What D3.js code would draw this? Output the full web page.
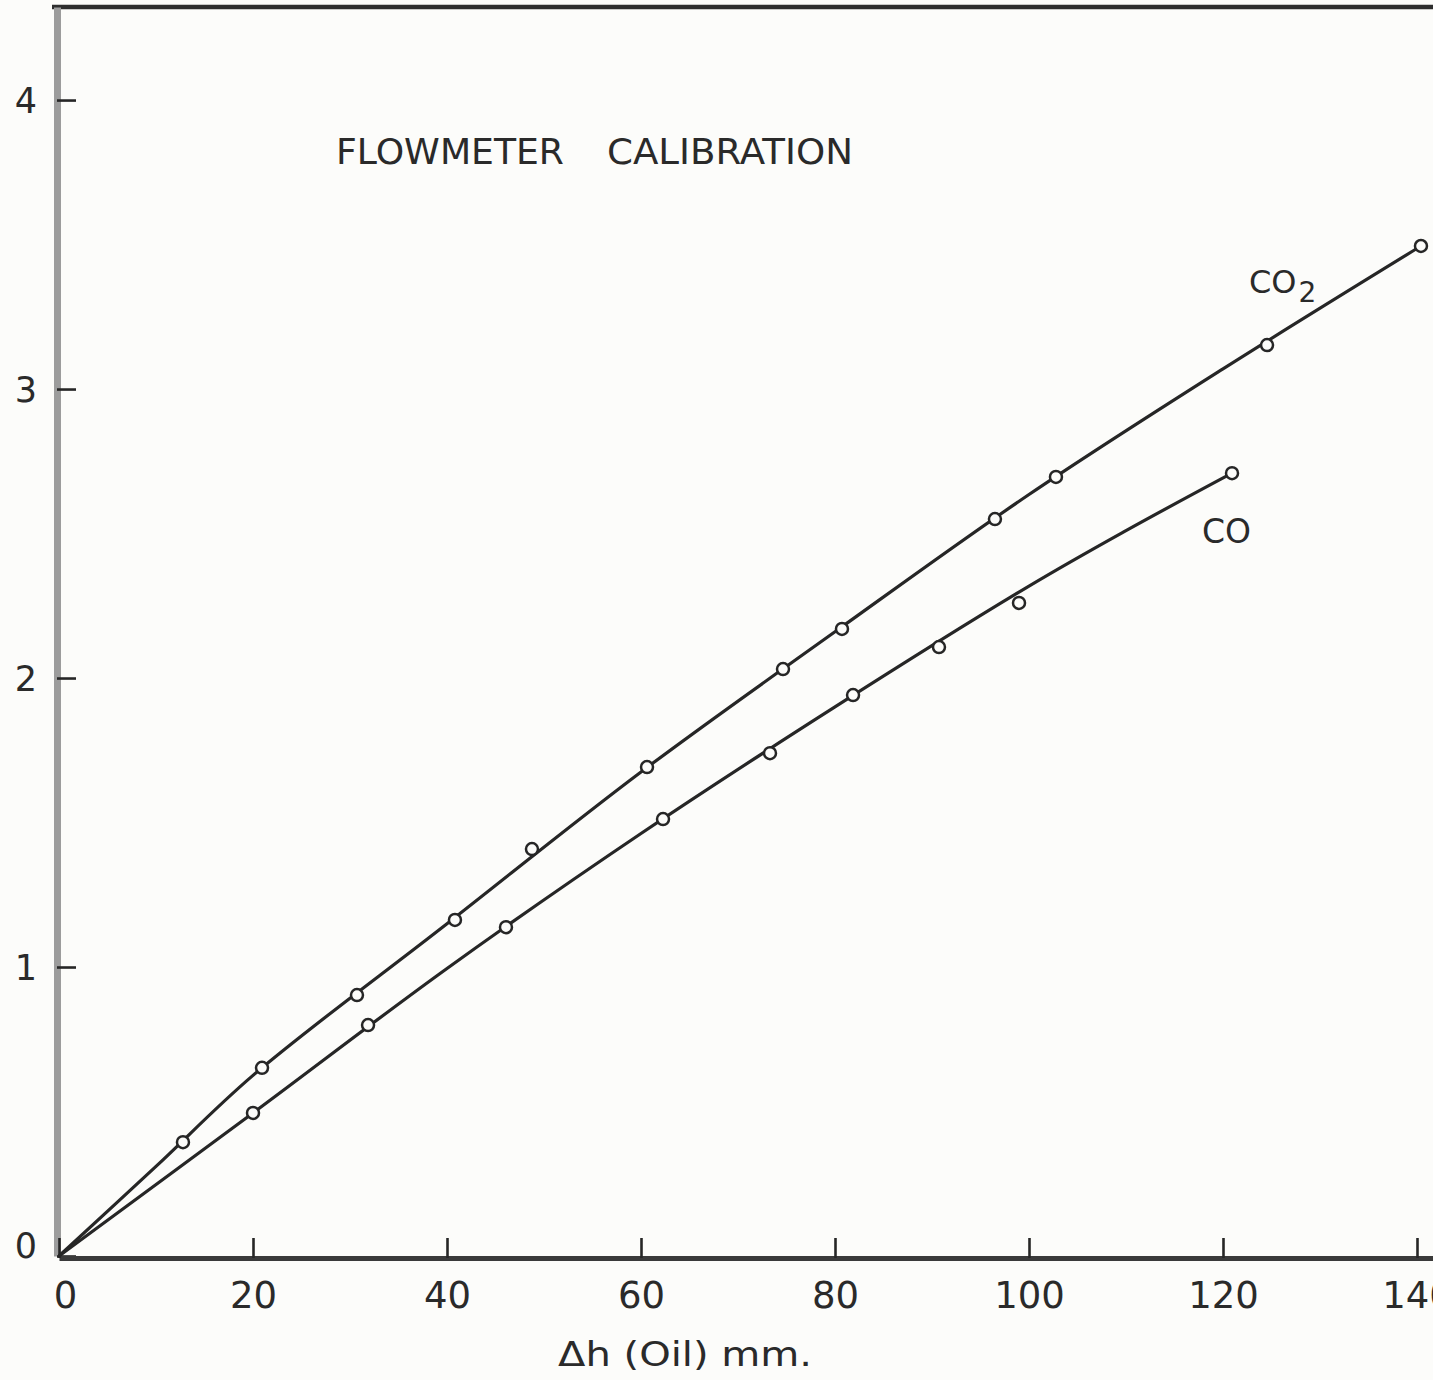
<!DOCTYPE html>
<html>
<head>
<meta charset="utf-8">
<script src="https://cdn.jsdelivr.net/npm/d3@7"></script>
<style>
  html, body { margin: 0; padding: 0; background: #fcfcfa; }
  svg { display: block; }
  text { font-family: "DejaVu Sans", "Liberation Sans", sans-serif; fill: #2a2a2a; }
</style>
</head>
<body>
<svg id="chart" width="1433" height="1380"></svg>
<script>
// Axis ticks
const xTicks = [0, 20, 40, 60, 80, 100, 120, 140];
const yTicks = [0, 1, 2, 3, 4];

// Measured calibration points: Δh (oil, mm) vs. flow
const co2Dh   = [12.78, 20.93, 30.72, 40.82, 48.76, 60.62, 74.64, 80.72, 96.49, 102.78, 124.54, 140.41];
const co2Flow = [0.394, 0.651, 0.903, 1.163, 1.408, 1.692, 2.031, 2.170, 2.550, 2.696, 3.152, 3.495];

const coDh    = [20.0, 31.86, 46.08, 62.27, 73.30, 81.86, 90.72, 98.97, 120.93];
const coFlow  = [0.495, 0.799, 1.138, 1.512, 1.740, 1.941, 2.107, 2.260, 2.709];

// Smoothed calibration curves (hand-faired through the points)
const co2FitDh   = [0, 10, 20, 40, 60, 80, 100, 120, 140.41];
const co2FitFlow = [0, 0.31, 0.625, 1.15, 1.675, 2.16, 2.635, 3.07, 3.495];

const coFitDh    = [0, 20, 40, 60, 80, 100, 110, 120.93];
const coFitFlow  = [0, 0.495, 0.995, 1.462, 1.900, 2.318, 2.51, 2.709];

const svg = d3.select("#chart");
const ink = "#262626";

const x = d3.scaleLinear().domain([0, 141.65]).range([59, 1433]);
const y = d3.scaleLinear().domain([0, 4.322]).range([1256, 7]);

// Top border of the plot frame
svg.append("line")
  .attr("x1", 52).attr("x2", 1433)
  .attr("y1", y(4.322)).attr("y2", y(4.322))
  .attr("stroke", "#2e2e2e").attr("stroke-width", 4.5);

// Left axis (ticks point into the plot)
const yAxis = svg.append("g")
  .attr("transform", `translate(${x(0) - 2},0)`)
  .call(d3.axisLeft(y).tickValues(yTicks).tickSize(-19).tickSizeOuter(0).tickPadding(20).tickFormat(d3.format("d")));
yAxis.select(".domain").attr("stroke", "#9c9c9c").attr("stroke-width", 7);
yAxis.selectAll(".tick line").attr("stroke", ink).attr("stroke-width", 2.6);
yAxis.selectAll(".tick text")
  .style("font-size", "35px").attr("fill", "#2a2a2a")
  .attr("dy", d => d === 0 ? "0.05em" : "0.36em");

// Bottom axis
const xAxis = svg.append("g")
  .attr("transform", `translate(0,${y(0) + 2})`)
  .call(d3.axisBottom(x).tickValues(xTicks).tickSize(-20).tickSizeOuter(0).tickPadding(24).tickFormat(d3.format("d")));
xAxis.select(".domain").attr("stroke", "#3a3a3a").attr("stroke-width", 5);
xAxis.selectAll(".tick line").attr("stroke", ink).attr("stroke-width", 2.6);
xAxis.selectAll(".tick text").style("font-size", "37px").attr("fill", "#2a2a2a");
xAxis.selectAll(".tick").filter(d => d === 0).select("text").attr("x", 6);

// Calibration curves
const line = d3.line()
  .x(d => x(d[0]))
  .y(d => y(d[1]))
  .curve(d3.curveCatmullRom.alpha(0.5));

const co2Fit = co2FitDh.map((d, i) => [d, co2FitFlow[i]]);
const coFit  = coFitDh.map((d, i) => [d, coFitFlow[i]]);

svg.append("path").datum(co2Fit).attr("d", line)
  .attr("fill", "none").attr("stroke", ink).attr("stroke-width", 3.2);
svg.append("path").datum(coFit).attr("d", line)
  .attr("fill", "none").attr("stroke", ink).attr("stroke-width", 3.2);

// Measured points as open circles
const co2Pts = co2Dh.map((d, i) => [d, co2Flow[i]]);
const coPts  = coDh.map((d, i) => [d, coFlow[i]]);

svg.append("g").selectAll("circle").data(co2Pts.concat(coPts)).join("circle")
  .attr("cx", d => x(d[0])).attr("cy", d => y(d[1]))
  .attr("r", 6)
  .attr("fill", "#fcfcfa").attr("stroke", ink).attr("stroke-width", 2.5);

// Title
svg.append("text").attr("x", 336).attr("y", 164)
  .attr("textLength", 228).attr("lengthAdjust", "spacingAndGlyphs")
  .style("font-size", "35px").text("FLOWMETER");
svg.append("text").attr("x", 607).attr("y", 164)
  .attr("textLength", 246).attr("lengthAdjust", "spacingAndGlyphs")
  .style("font-size", "35px").text("CALIBRATION");

// Series labels
const co2Label = svg.append("text").attr("x", 1249).attr("y", 293).style("font-size", "32px");
co2Label.append("tspan").text("CO");
co2Label.append("tspan").attr("dx", 2).attr("dy", 9).style("font-size", "28px").text("2");

svg.append("text").attr("x", 1202).attr("y", 543).style("font-size", "33px").text("CO");

// X-axis title
svg.append("text").attr("x", 558).attr("y", 1366)
  .attr("textLength", 254).attr("lengthAdjust", "spacingAndGlyphs")
  .style("font-size", "33px").text("Δh (Oil) mm.");
</script>
</body>
</html>
